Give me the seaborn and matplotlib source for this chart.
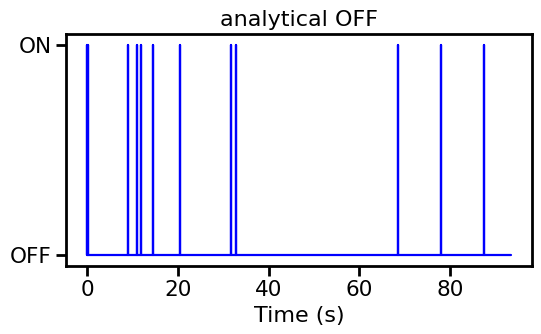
import numpy as np
import pandas as pd
import seaborn as sns
import matplotlib
matplotlib.use("Agg")
import matplotlib.pyplot as plt

# Data: times (s) at which the signal spikes to ON, and total duration
spike_times = [0.0, 0.25, 8.9, 10.9, 11.9, 14.6, 20.5, 31.6, 32.7, 68.4, 78.0, 87.4]
t_end = 93.3
state_labels = ["OFF", "ON"]
title = "analytical OFF"

# Build step signal from spike events
ts, vs = [0.0], [0]
for t in spike_times:
    ts += [t, t, t]
    vs += [0, 1, 0]
ts.append(t_end)
vs.append(0)
df = pd.DataFrame({"Time (s)": ts, "state": vs})

sns.set_theme(style="ticks", context="talk", rc={
    "text.color": "black", "axes.labelcolor": "black", "axes.edgecolor": "black",
    "xtick.color": "black", "ytick.color": "black",
    "xtick.labelsize": 15.5, "ytick.labelsize": 15.5, "axes.labelsize": 16,
    "axes.titlesize": 16, "axes.linewidth": 2,
    "xtick.major.width": 2, "ytick.major.width": 2,
    "xtick.major.size": 7, "ytick.major.size": 7,
})
fig, ax = plt.subplots(figsize=(5.41, 3.34), dpi=100)
sns.lineplot(data=df, x="Time (s)", y="state", sort=False, estimator=None,
             color="blue", linewidth=1.6, ax=ax)
ax.set_yticks([0, 1])
ax.set_yticklabels(state_labels)
ax.set_ylabel("")
ax.set_title(title)
fig.subplots_adjust(left=0.122, right=0.983, top=0.898, bottom=0.204)
fig.savefig("out.png", dpi=100)
